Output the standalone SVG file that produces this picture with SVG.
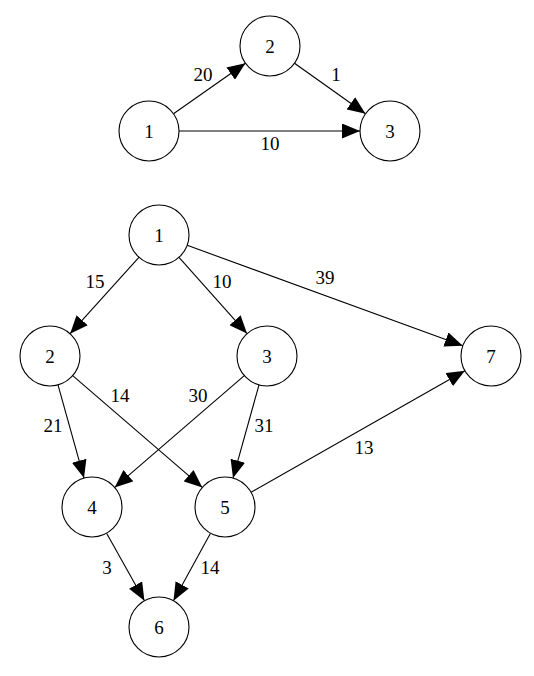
<svg xmlns="http://www.w3.org/2000/svg" width="534" height="676" viewBox="0 0 534 676">
<style>
.n circle{fill:#fff;stroke:#000;stroke-width:1.1}
text{font-family:"Liberation Serif","DejaVu Serif",serif;font-size:19px;fill:#000;text-anchor:middle;dominant-baseline:central}
.e line{stroke:#000;stroke-width:1.1;marker-end:url(#ah)}
</style>
<defs>
<marker id="ah" markerUnits="userSpaceOnUse" markerWidth="18" markerHeight="15" refX="18" refY="7.5" orient="auto">
<path d="M0,0 L18,7.5 L0,15 z" fill="#000"/>
</marker>
</defs>
<rect width="534" height="676" fill="#fff"/>
<g id="connectors" class="e">
<line x1="173.5" y1="113.8" x2="245.4" y2="63.2"/>
<line x1="294.5" y1="63.3" x2="365.5" y2="113.7"/>
<line x1="179" y1="131" x2="360" y2="131"/>
<line x1="138.9" y1="257.3" x2="70.1" y2="333.7"/>
<line x1="179" y1="257.4" x2="247" y2="333.6"/>
<line x1="187.2" y1="245.3" x2="462.8" y2="345.7"/>
<line x1="58" y1="384.9" x2="84" y2="478.1"/>
<line x1="72.7" y1="375.6" x2="202.3" y2="487.4"/>
<line x1="244.3" y1="375.6" x2="114.7" y2="487.4"/>
<line x1="259" y1="384.9" x2="233" y2="478.1"/>
<line x1="251.1" y1="492.2" x2="464.9" y2="370.8"/>
<line x1="106.6" y1="533.2" x2="144.4" y2="600.8"/>
<line x1="210.5" y1="533.3" x2="173.5" y2="600.7"/>
</g>
<g id="edge-labels">
<text x="203" y="74">20</text>
<text x="336" y="74">1</text>
<text x="270" y="143">10</text>
<text x="95" y="281">15</text>
<text x="222" y="281">10</text>
<text x="325" y="277">39</text>
<text x="120" y="395">14</text>
<text x="198" y="395">30</text>
<text x="53" y="425">21</text>
<text x="264" y="425">31</text>
<text x="364" y="447">13</text>
<text x="107" y="567">3</text>
<text x="210" y="567">14</text>
</g>
<g id="a1" class="n"><circle cx="149" cy="131" r="30"/><text x="149" y="131">1</text></g>
<g id="a2" class="n"><circle cx="270" cy="46" r="30"/><text x="270" y="46">2</text></g>
<g id="a3" class="n"><circle cx="390" cy="131" r="30"/><text x="390" y="131">3</text></g>
<g id="b1" class="n"><circle cx="159" cy="235" r="30"/><text x="159" y="235">1</text></g>
<g id="b2" class="n"><circle cx="50" cy="356" r="30"/><text x="50" y="356">2</text></g>
<g id="b3" class="n"><circle cx="267" cy="356" r="30"/><text x="267" y="356">3</text></g>
<g id="b7" class="n"><circle cx="491" cy="356" r="30"/><text x="491" y="356">7</text></g>
<g id="b4" class="n"><circle cx="92" cy="507" r="30"/><text x="92" y="507">4</text></g>
<g id="b5" class="n"><circle cx="225" cy="507" r="30"/><text x="225" y="507">5</text></g>
<g id="b6" class="n"><circle cx="159" cy="627" r="30"/><text x="159" y="627">6</text></g>
</svg>
